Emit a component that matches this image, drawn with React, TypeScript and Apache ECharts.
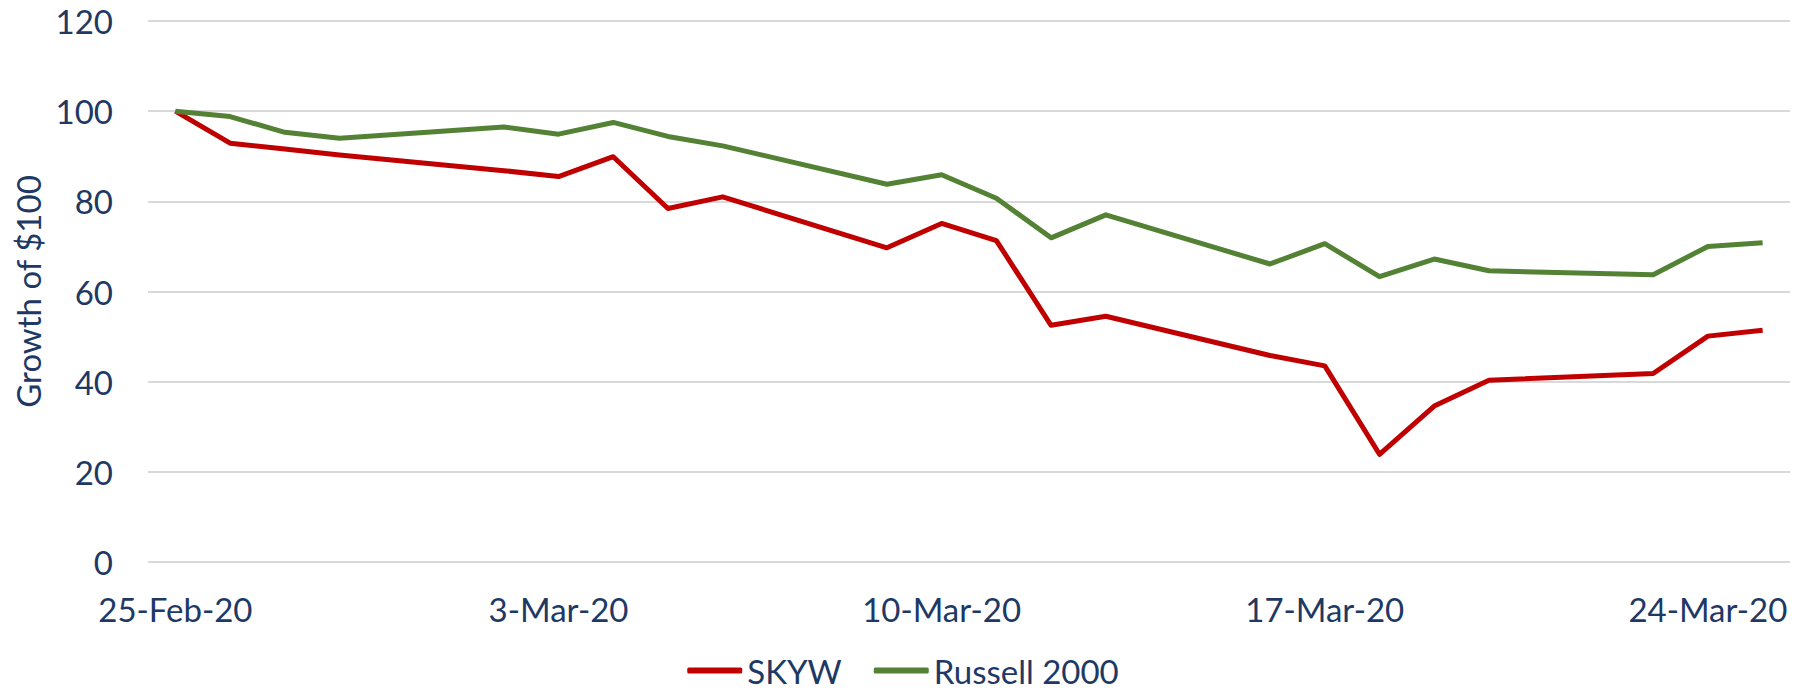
import React, { useEffect, useRef } from "react";
import * as echarts from "echarts";

const dates = [
  "2020-02-25", "2020-02-26", "2020-02-27", "2020-02-28",
  "2020-03-02", "2020-03-03", "2020-03-04", "2020-03-05", "2020-03-06",
  "2020-03-09", "2020-03-10", "2020-03-11", "2020-03-12", "2020-03-13",
  "2020-03-16", "2020-03-17", "2020-03-18", "2020-03-19", "2020-03-20",
  "2020-03-23", "2020-03-24", "2020-03-25",
];

const skyw = [
  100, 92.9, 91.6, 90.3,
  86.8, 85.5, 89.9, 78.4, 81.0,
  69.7, 75.1, 71.3, 52.5, 54.5,
  45.8, 43.5, 23.9, 34.6, 40.3,
  41.8, 50.1, 51.4,
];

const russell = [
  100, 98.8, 95.3, 94.0,
  96.5, 94.9, 97.5, 94.4, 92.3,
  83.8, 85.9, 80.7, 71.9, 77.0,
  66.1, 70.6, 63.3, 67.2, 64.6,
  63.7, 70.0, 70.8,
];

const tickDates = ["2020-02-25", "2020-03-03", "2020-03-10", "2020-03-17", "2020-03-24"];
const tickLabels = ["25-Feb-20", "3-Mar-20", "10-Mar-20", "17-Mar-20", "24-Mar-20"];

const yTicks = [0, 20, 40, 60, 80, 100, 120];

const START = Date.UTC(2020, 1, 25);
const dayOf = (d: string) => Math.round((Date.parse(d + "T00:00:00Z") - START) / 86400000);

const TEXT = "#203864";
const FONT = "Lato";

export default function App() {
  const ref = useRef<HTMLDivElement>(null);
  useEffect(() => {
    if (!ref.current) return;
    const chart = echarts.init(ref.current, null, { renderer: "svg" });
    const tickDays = tickDates.map(dayOf);
    chart.setOption({
      animation: false,
      backgroundColor: "#ffffff",
      grid: { left: 148, right: 16, top: 21, bottom: 133, containLabel: false },
      legend: {
        data: ["SKYW", "Russell 2000"],
        top: 654,
        left: "center",
        padding: 0,
        icon: "roundRect",
        itemWidth: 55,
        itemHeight: 6,
        itemGap: 32,
        textStyle: { fontFamily: FONT, fontSize: 33, color: TEXT },
      },
      xAxis: {
        type: "value",
        min: -0.5,
        max: dayOf("2020-03-25") + 0.5,
        splitLine: { show: false },
        axisLine: { show: false },
        axisTick: { show: false },
        axisLabel: {
          customValues: tickDays,
          formatter: (v: number) => {
            const i = tickDays.indexOf(Math.round(v));
            return i >= 0 ? tickLabels[i] : "";
          },
          margin: 30,
          fontFamily: FONT,
          fontSize: 33,
          color: TEXT,
        },
      },
      yAxis: {
        type: "value",
        min: yTicks[0],
        max: yTicks[yTicks.length - 1],
        interval: 20,
        name: "Growth of $100",
        nameLocation: "middle",
        nameGap: 103,
        nameTextStyle: { fontFamily: FONT, fontSize: 33, color: TEXT },
        axisLine: { show: false },
        axisTick: { show: false },
        axisLabel: { margin: 35, fontFamily: FONT, fontSize: 33, color: TEXT },
        splitLine: { lineStyle: { color: "#d9d9d9", width: 2 } },
      },
      series: [
        {
          name: "SKYW",
          type: "line",
          data: dates.map((d, i) => [dayOf(d), skyw[i]]),
          showSymbol: false,
          symbol: "none",
          lineStyle: { color: "#c00000", width: 5, join: "round" },
          itemStyle: { color: "#c00000" },
        },
        {
          name: "Russell 2000",
          type: "line",
          data: dates.map((d, i) => [dayOf(d), russell[i]]),
          showSymbol: false,
          symbol: "none",
          lineStyle: { color: "#548235", width: 5, join: "round" },
          itemStyle: { color: "#548235" },
        },
      ],
    });
    return () => chart.dispose();
  }, []);
  return (
    <div
      ref={ref}
      style={{ position: "fixed", left: 0, top: 0, width: 1806, height: 695, background: "#fff" }}
    />
  );
}
